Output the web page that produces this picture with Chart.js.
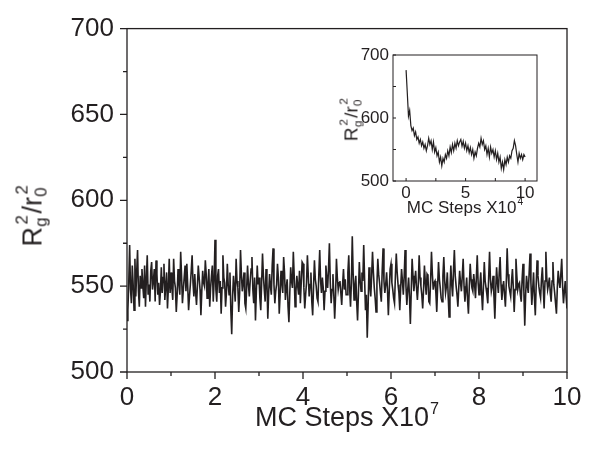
<!DOCTYPE html>
<html>
<head>
<meta charset="utf-8">
<script src="https://cdn.jsdelivr.net/npm/chart.js@4.4.1/dist/chart.umd.min.js"></script>
<style>
  html, body { margin: 0; padding: 0; background: #fff; }
  #wrap { position: relative; width: 597px; height: 450px; overflow: hidden;
          font-family: "Liberation Sans", Arial, sans-serif; color: #231f20; }
  canvas { position: absolute; }
  #main { left: 0; top: 0; }
  #inset { left: 330px; top: 40px; }
  .title { position: absolute; white-space: nowrap; line-height: 1; }
  .title sup { font-size: 0.6em; position: relative; top: -0.75em; vertical-align: baseline; margin-left: 1px; }
  .ss { display: inline-block; position: relative; width: 0.5em; height: 1em; vertical-align: top; }
  .ss span { position: absolute; font-size: 0.62em; line-height: 1; }
  .ss .up { left: 0.15em; top: -0.3em; }
  .ss .dn { left: 0.02em; top: 0.84em; }
  #xt { font-size: 27px; left: 347px; top: 404px; transform: translateX(-50%); }
  #yt { font-size: 27px; left: 33px; top: 215px; transform: translate(-50%, -50%) rotate(-90deg); }
  #xt2 { font-size: 17px; left: 465px; top: 199px; transform: translateX(-50%); }
  #yt2 { font-size: 19px; left: 351px; top: 119px; transform: translate(-50%, -50%) rotate(-90deg); }
</style>
</head>
<body>
<div id="wrap">
  <canvas id="main" width="597" height="450"></canvas>
  <canvas id="inset" width="220" height="180"></canvas>
  <div class="title" id="xt">MC Steps X10<sup>7</sup></div>
  <div class="title" id="yt">R<span class="ss"><span class="up">2</span><span class="dn">g</span></span>/r<span class="ss"><span class="up">2</span><span class="dn">0</span></span></div>
  <div class="title" id="xt2">MC Steps X10<sup>4</sup></div>
  <div class="title" id="yt2">R<span class="ss"><span class="up">2</span><span class="dn">g</span></span>/r<span class="ss"><span class="up">2</span><span class="dn">0</span></span></div>
</div>
<script>
// main panel: R_g^2/r_0^2 over 10^7 MC steps, samples evenly spread from 0 to 10
var mainY = [
  530, 536, 552, 574, 548, 540, 562, 551, 536, 566, 544, 558, 571, 547, 538, 556, 549, 560, 550, 543, 562, 538, 554, 568, 545, 551, 541, 559, 564, 548, 553, 560, 541, 565, 557, 545, 552, 539, 547, 561, 546, 555, 563, 542, 550, 558, 537, 549, 566, 546,
  558, 549, 542, 566, 553, 549, 535, 545, 560, 552, 545, 570, 556, 540, 548, 555, 562, 547, 563, 550, 536, 544, 551, 559, 568, 552, 544, 557, 546, 539, 550, 562, 555, 548, 533, 547, 559, 552, 550, 565, 557, 543, 551, 560, 538, 549, 556, 562, 541, 553,
  577, 548, 541, 556, 560, 546, 553, 534, 549, 568, 555, 552, 538, 546, 563, 551, 545, 558, 536, 522, 544, 556, 549, 541, 566, 553, 549, 535, 546, 571, 557, 547, 552, 558, 540, 537, 549, 562, 551, 544, 553, 560, 567, 548, 540, 555, 530, 547, 562, 551,
  555, 543, 536, 552, 569, 556, 548, 541, 560, 553, 531, 546, 557, 550, 545, 562, 572, 551, 540, 547, 551, 563, 555, 534, 545, 559, 552, 546, 567, 558, 542, 549, 554, 538, 529, 546, 561, 553, 549, 570, 556, 538, 547, 556, 550, 545, 559, 540, 552, 564,
  563, 549, 537, 545, 552, 568, 556, 544, 551, 558, 541, 533, 550, 565, 554, 550, 543, 541, 557, 571, 553, 546, 555, 549, 536, 547, 562, 555, 549, 560, 575, 552, 540, 548, 557, 545, 531, 544, 566, 555, 548, 552, 553, 546, 539, 551, 560, 548, 554, 545,
  545, 558, 568, 549, 538, 552, 579, 557, 542, 550, 556, 541, 530, 546, 564, 553, 547, 558, 553, 574, 554, 536, 545, 520, 538, 561, 550, 544, 556, 570, 558, 549, 543, 535, 551, 566, 557, 552, 546, 541, 559, 572, 553, 546, 551, 558, 548, 533, 547, 560,
  563, 552, 548, 543, 540, 556, 569, 558, 551, 546, 536, 549, 560, 553, 545, 556, 571, 550, 539, 548, 555, 544, 528, 547, 566, 556, 547, 553, 559, 549, 542, 551, 568, 555, 550, 545, 537, 548, 562, 552, 545, 557, 556, 541, 540, 553, 570, 557, 548, 552,
  553, 546, 535, 550, 564, 554, 549, 543, 541, 556, 567, 553, 546, 550, 558, 544, 532, 547, 562, 551, 544, 559, 571, 556, 550, 545, 538, 549, 559, 552, 547, 556, 566, 550, 541, 548, 555, 542, 534, 550, 563, 554, 549, 547, 557, 551, 543, 555, 568, 552,
  545, 551, 558, 546, 536, 549, 564, 553, 549, 545, 540, 555, 570, 554, 547, 550, 556, 544, 531, 548, 561, 552, 546, 558, 567, 551, 542, 549, 553, 545, 538, 552, 572, 557, 550, 547, 544, 553, 560, 549, 535, 548, 566, 556, 548, 551, 552, 545, 541, 554,
  563, 547, 527, 545, 556, 550, 546, 558, 569, 552, 539, 548, 558, 543, 533, 551, 565, 556, 550, 546, 543, 554, 561, 549, 537, 553, 570, 555, 548, 551, 555, 546, 541, 553, 564, 551, 546, 540, 534, 549, 559, 553, 549, 557, 566, 550, 540, 547, 553, 544, 537
];
var mainXTicks = [0, 2, 4, 6, 8, 10];
var mainXMinor = [1, 3, 5, 7, 9];
var mainYTicks = [500, 550, 600, 650, 700];
var mainYMinor = [525, 575, 625, 675];

// inset: first 10^5 MC steps, samples evenly spread from 0 to 10
var insetY = [
  676, 640, 603, 612, 588, 580, 584, 572, 578, 566,
  570, 560, 566, 556, 562, 552, 558, 548, 556, 568,
  558, 564, 550, 562, 546, 553, 540, 546, 530, 538,
  524, 536, 530, 542, 536, 548, 540, 554, 545, 558,
  548, 560, 552, 564, 556, 562, 566, 555, 563, 552,
  560, 548, 556, 545, 553, 542, 550, 536, 546, 540,
  552, 560, 554, 568, 558, 564, 550, 556, 542, 552,
  538, 554, 544, 550, 538, 548, 534, 544, 530, 538,
  520, 530, 518, 534, 526, 538, 530, 540, 536, 548,
  552, 564, 556, 542, 530, 544, 536, 542, 534, 542,
  538
];
var insetXTicks = [0, 5, 10];
var insetXMinor = [2.5, 7.5];
var insetYTicks = [500, 600, 700];
var insetYMinor = [550, 650];

var ink = '#231f20';
var fontFamily = '"Liberation Sans", Arial, sans-serif';

// pair each sample with its position on the 0..10 step axis
function points(ys) {
  var step = 10 / (ys.length - 1);
  return ys.map(function(v, i) { return { x: i * step, y: v }; });
}

// box frame + tick marks (major/minor, outward or inward)
var frameTicks = {
  id: 'frameTicks',
  afterDraw: function(chart, args, o) {
    var ctx = chart.ctx, a = chart.chartArea;
    var xs = chart.scales.x, ys = chart.scales.y;
    var d = o.inward ? -1 : 1;
    ctx.save();
    ctx.strokeStyle = ink;
    ctx.lineWidth = o.width;
    ctx.strokeRect(a.left, a.top, a.right - a.left, a.bottom - a.top);
    ctx.beginPath();
    function xt(vals, len) {
      vals.forEach(function(v) {
        var p = xs.getPixelForValue(v);
        ctx.moveTo(p, a.bottom); ctx.lineTo(p, a.bottom + d * len);
      });
    }
    function yt(vals, len) {
      vals.forEach(function(v) {
        var p = ys.getPixelForValue(v);
        ctx.moveTo(a.left, p); ctx.lineTo(a.left - d * len, p);
      });
    }
    xt(o.xMajor, o.major); xt(o.xMinor, o.minor);
    yt(o.yMajor, o.major); yt(o.yMinor, o.minor);
    ctx.stroke();
    ctx.restore();
  }
};

function axis(min, max, ticks, size, pad, fit) {
  return {
    type: 'linear', min: min, max: max,
    afterBuildTicks: function(s) { s.ticks = ticks.map(function(v) { return { value: v }; }); },
    afterFit: fit,
    grid: { display: false, drawTicks: false },
    border: { display: false },
    ticks: { color: ink, padding: pad, font: { size: size, family: fontFamily } }
  };
}

new Chart(document.getElementById('main'), {
  type: 'line',
  data: {
    datasets: [{
      data: points(mainY),
      borderColor: ink, borderWidth: 1.6, pointRadius: 0, tension: 0
    }]
  },
  options: {
    responsive: false, animation: false,
    layout: { padding: { top: 20, right: 30, left: 0, bottom: 0 } },
    plugins: {
      legend: { display: false }, tooltip: { enabled: false },
      frameTicks: { xMajor: mainXTicks, xMinor: mainXMinor, yMajor: mainYTicks, yMinor: mainYMinor,
                    major: 7, minor: 4, inward: false, width: 1.3 }
    },
    scales: {
      x: axis(0, 10, mainXTicks, 26, 10, function(s) { s.height = 78; }),
      y: axis(500, 700, mainYTicks, 26, 13, function(s) { s.width = 127; })
    }
  },
  plugins: [frameTicks]
});

new Chart(document.getElementById('inset'), {
  type: 'line',
  data: {
    datasets: [{
      data: points(insetY),
      borderColor: ink, borderWidth: 1.2, pointRadius: 0, tension: 0
    }]
  },
  options: {
    responsive: false, animation: false,
    layout: { padding: { top: 15, right: 13, left: 0, bottom: 0 } },
    plugins: {
      legend: { display: false }, tooltip: { enabled: false },
      frameTicks: { xMajor: insetXTicks, xMinor: insetXMinor, yMajor: insetYTicks, yMinor: insetYMinor,
                    major: 3, minor: 3, inward: true, width: 1 }
    },
    scales: {
      x: axis(-1.1, 11, insetXTicks, 17, 2, function(s) { s.height = 39; }),
      y: axis(500, 700, insetYTicks, 17, 4, function(s) { s.width = 63; })
    }
  },
  plugins: [frameTicks]
});
</script>
</body>
</html>
